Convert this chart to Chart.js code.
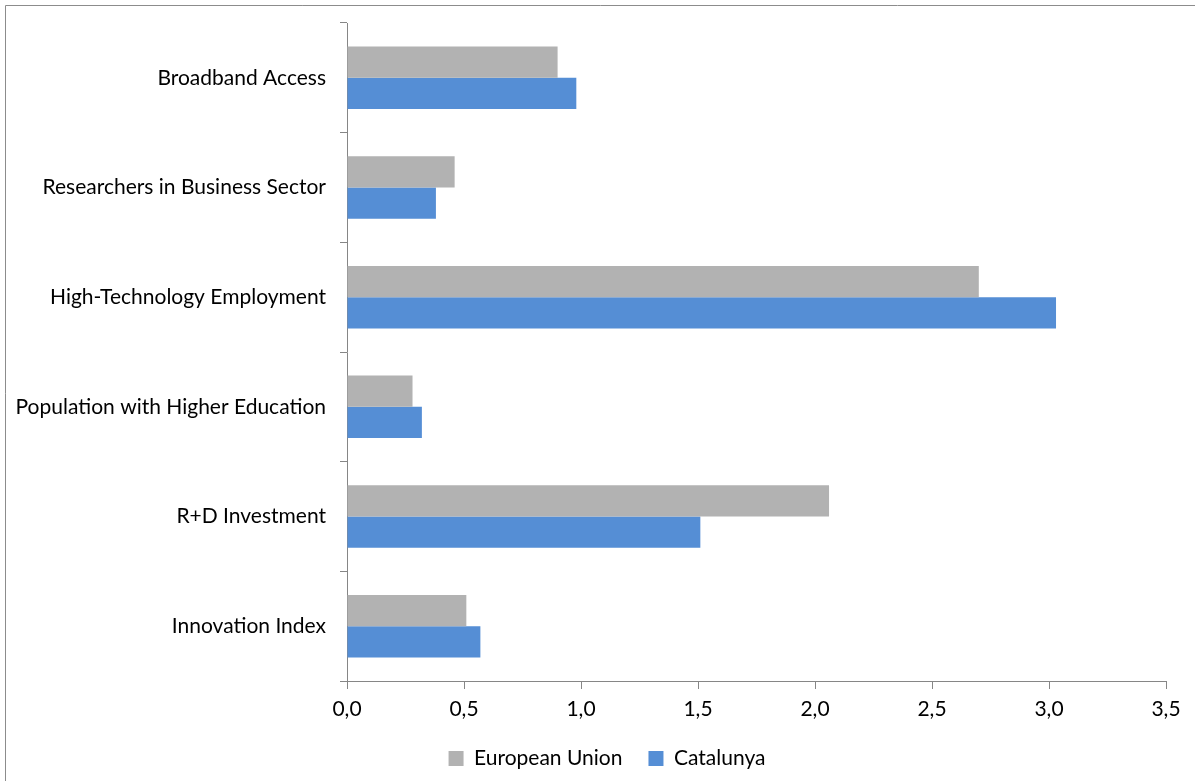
<!DOCTYPE html>
<html>
<head>
<meta charset="utf-8">
<script src="https://cdn.jsdelivr.net/npm/chart.js@4"></script>
<style>
  html, body { margin: 0; padding: 0; background: #fff; }
  #wrap { position: relative; width: 1195px; height: 781px; }
</style>
</head>
<body>
<div id="wrap"><canvas id="chartCanvas" width="1195" height="781"></canvas></div>
<script>
// chart data
const categories = [
    'Broadband Access',
    'Researchers in Business Sector',
    'High-Technology Employment',
    'Population with Higher Education',
    'R+D Investment',
    'Innovation Index'
];
const euValues = [0.90, 0.46, 2.70, 0.28, 2.06, 0.51];
const catValues = [0.98, 0.38, 3.03, 0.32, 1.51, 0.57];
const seriesNames = ['European Union', 'Catalunya'];
const xTicks = [0, 0.5, 1, 1.5, 2, 2.5, 3, 3.5];

const axisColor = '#868686';
const fontFamily = 'Lato, "Open Sans", sans-serif';

// grey chart frame: only its top and left edges are inside the picture
const framePlugin = {
    id: 'frame',
    afterDraw(chart) {
        const ctx = chart.ctx;
        ctx.save();
        ctx.strokeStyle = '#8c8c8c';
        ctx.lineWidth = 1;
        ctx.beginPath();
        ctx.moveTo(5.5, chart.height);
        ctx.lineTo(5.5, 5.5);
        ctx.lineTo(chart.width, 5.5);
        ctx.stroke();
        ctx.restore();
    }
};

// the original legend sits a bit right of the canvas centre
const legendShift = {
    id: 'legendShift',
    afterUpdate(chart) {
        const lg = chart.legend;
        if (lg) {
            lg.left += 24;
            lg.right += 24;
        }
    }
};

const chartCanvas = document.getElementById('chartCanvas');
const chartInstance = new Chart(chartCanvas, {
    type: 'bar',
    data: {
        labels: categories,
        datasets: [
            {
                label: seriesNames[0],
                data: euValues,
                backgroundColor: '#B2B2B2',
                borderWidth: 0
            },
            {
                label: seriesNames[1],
                data: catValues,
                backgroundColor: '#558ED5',
                borderWidth: 0
            }
        ]
    },
    options: {
        indexAxis: 'y',
        responsive: false,
        animation: false,
        layout: {
            padding: { top: 23, right: 29, left: 0, bottom: 12 }
        },
        datasets: {
            bar: { categoryPercentage: 0.57, barPercentage: 1.0 }
        },
        scales: {
            x: {
                min: 0,
                max: 3.5,
                afterBuildTicks: scale => {
                    scale.ticks = xTicks.map(v => ({ value: v }));
                },
                afterFit: scale => { scale.height = 41; },
                ticks: {
                    color: '#000',
                    font: { family: fontFamily, size: 21 },
                    padding: 8,
                    maxRotation: 0,
                    callback: v => Number(v).toFixed(1).replace('.', ',')
                },
                grid: {
                    drawOnChartArea: false,
                    drawTicks: true,
                    tickLength: 8,
                    color: axisColor
                },
                border: { display: true, color: axisColor, width: 1 }
            },
            y: {
                afterFit: scale => {
                    scale.width = 347;
                    scale.paddingTop = 0;
                    scale.paddingBottom = 0;
                },
                ticks: {
                    color: '#000',
                    font: { family: fontFamily, size: 21 },
                    padding: 14
                },
                grid: {
                    drawOnChartArea: false,
                    drawTicks: true,
                    tickLength: 7,
                    color: axisColor,
                    offset: true
                },
                border: { display: true, color: axisColor, width: 1 }
            }
        },
        plugins: {
            legend: {
                position: 'bottom',
                maxHeight: 47,
                labels: {
                    color: '#000',
                    font: { family: fontFamily, size: 21 },
                    boxWidth: 15,
                    boxHeight: 15,
                    padding: 26
                }
            },
            tooltip: { enabled: false }
        }
    },
    plugins: [framePlugin, legendShift]
});
</script>
</body>
</html>
